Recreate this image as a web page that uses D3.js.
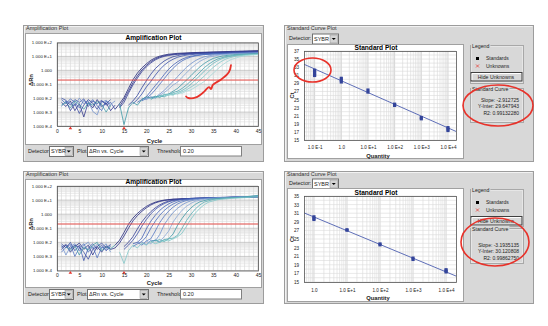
<!DOCTYPE html>
<html><head><meta charset="utf-8">
<script src="https://cdn.jsdelivr.net/npm/d3@7"></script>
<style>body{margin:0;background:#fff}svg{display:block}</style>
</head><body><svg id="c" width="548" height="326"></svg>
<script>
// ---------------- DATA ----------------
const ampXTicks = [0,5,10,15,20,25,30,35,40,45];
const ampYTicks = [1e2,1e1,1,1e-1,1e-2,1e-3,1e-4];
const ampYTickLabels = ["1.000 E+2","1.000 E+1","1.000","1.000 E-1","1.000 E-2","1.000 E-3","1.000 E-4"];
const thresholdValue = 0.20;
const baselineCycles = [3,15];
const detectorName = "SYBR";
const plotType = "\u0394Rn vs. Cycle";

// amplification curves: [cycle, log10(ΔRn)]
const topCurves = [
 [[13,-2.8],[14,-2.4],[15,-1.95],[16,-1.3],[17,-0.68],[18,-0.2],[19,0.17],[20,0.47],[21,0.72],[22,0.9],[23,1.02],[24,1.1],[25,1.16],[27,1.22],[30,1.27],[35,1.32],[40,1.37],[45,1.42]],
 [[14,-2.6],[15,-2.1],[16,-1.5],[17,-0.9],[18,-0.4],[19,0.02],[20,0.35],[21,0.62],[22,0.82],[23,0.96],[24,1.05],[25,1.11],[27,1.18],[30,1.24],[35,1.3],[40,1.34],[45,1.38]],
 [[14,-2.7],[15,-2.3],[16,-1.65],[17,-1.05],[18,-0.55],[19,-0.1],[20,0.25],[21,0.53],[22,0.75],[23,0.9],[24,1.0],[25,1.07],[27,1.15],[30,1.21],[35,1.27],[40,1.31],[45,1.35]],
 [[16,-2.5],[17,-2.2],[18,-1.8],[19,-1.25],[20,-0.75],[21,-0.28],[22,0.12],[23,0.42],[24,0.67],[25,0.85],[26,0.98],[27,1.06],[28,1.12],[30,1.18],[35,1.25],[40,1.3],[45,1.33]],
 [[17,-2.4],[18,-2.1],[19,-1.7],[20,-1.2],[21,-0.8],[22,-0.35],[23,0.05],[24,0.37],[25,0.62],[26,0.8],[27,0.94],[28,1.03],[29,1.09],[31,1.16],[35,1.22],[40,1.27],[45,1.3]],
 [[18,-2.3],[19,-2.1],[20,-1.9],[21,-1.5],[22,-1.1],[23,-0.72],[24,-0.3],[25,0.08],[26,0.38],[27,0.62],[28,0.8],[29,0.93],[30,1.02],[32,1.12],[35,1.18],[40,1.24],[45,1.28]],
 [[19,-2.2],[20,-2.0],[21,-1.75],[22,-1.4],[23,-1.0],[24,-0.6],[25,-0.2],[26,0.15],[27,0.45],[28,0.68],[29,0.84],[30,0.96],[31,1.04],[33,1.13],[36,1.19],[40,1.23],[45,1.27]],
 [[19,-2.0],[20,-2.1],[21,-1.9],[22,-1.95],[23,-1.7],[24,-1.45],[25,-1.1],[26,-0.8],[27,-0.45],[28,-0.1],[29,0.22],[30,0.48],[31,0.7],[32,0.86],[33,0.98],[35,1.1],[38,1.18],[41,1.22],[45,1.26]],
 [[20,-2.05],[21,-1.95],[22,-2.0],[23,-1.8],[24,-1.6],[25,-1.35],[26,-1.05],[27,-0.85],[28,-0.5],[29,-0.18],[30,0.15],[31,0.42],[32,0.65],[33,0.82],[34,0.95],[36,1.08],[39,1.17],[42,1.21],[45,1.24]],
 [[14,-2.4],[15,-3.9],[16,-2.7],[17,-2.3],[18,-2.5],[19,-2.1],[20,-1.9],[21,-2.0],[22,-1.85],[23,-1.95],[24,-1.75],[25,-1.7],[26,-1.5],[27,-1.3],[28,-1.0],[29,-0.7],[30,-0.38],[31,-0.05],[32,0.25],[33,0.5],[34,0.7],[35,0.86],[37,1.03],[40,1.14],[45,1.2]],
 [[21,-2.1],[22,-1.9],[23,-1.85],[24,-1.9],[25,-1.75],[26,-1.6],[27,-1.5],[28,-1.3],[29,-1.05],[30,-0.75],[31,-0.45],[32,-0.12],[33,0.2],[34,0.45],[35,0.66],[36,0.82],[38,1.0],[41,1.12],[45,1.18]],
 [[22,-2.0],[23,-1.8],[24,-1.85],[25,-1.7],[26,-1.75],[27,-1.6],[28,-1.45],[29,-1.25],[30,-1.0],[31,-0.68],[32,-0.38],[33,-0.05],[34,0.25],[35,0.5],[36,0.7],[37,0.85],[39,1.02],[42,1.12],[45,1.17]],
 [[23,-1.95],[24,-1.7],[25,-1.8],[26,-1.65],[27,-1.7],[28,-1.55],[29,-1.4],[30,-1.2],[31,-1.0],[32,-0.7],[33,-0.4],[34,-0.08],[35,0.22],[36,0.47],[37,0.68],[38,0.84],[40,1.02],[43,1.12],[45,1.15]],
 [[24,-1.9],[25,-1.75],[26,-1.8],[27,-1.6],[28,-1.65],[29,-1.5],[30,-1.4],[31,-1.2],[32,-1.0],[33,-0.8],[34,-0.5],[35,-0.2],[36,0.1],[37,0.38],[38,0.6],[39,0.78],[41,0.98],[43,1.08],[45,1.13]]
];
const topCurveColors = ["#23287a","#2a2f86","#343d96","#34459e","#3b52ab","#4260b5","#4a6cbc","#6d8fcc","#86a6d4","#3e98a6","#4aa5b0","#67b8bd","#80c6c8","#a3d8d8"];
const topNoise = [
 [[1,-2.0],[2,-2.15],[3,-2.5],[4,-2.1],[5,-2.3],[6,-2.05],[7,-2.6],[8,-2.2],[9,-2.4],[10,-2.15],[11,-2.5],[12,-2.3],[13,-2.8]],
 [[1,-2.3],[2,-2.6],[3,-2.2],[4,-2.9],[5,-2.4],[6,-3.35],[7,-2.3],[8,-2.7],[9,-2.1],[10,-2.6],[11,-2.35],[12,-2.9],[13,-2.5]],
 [[1,-2.6],[2,-2.2],[3,-2.35],[4,-2.55],[5,-2.0],[6,-2.4],[7,-2.2],[8,-2.95],[9,-3.2],[10,-2.3],[11,-2.15],[12,-2.45],[13,-2.2]],
 [[1,-2.1],[2,-2.4],[3,-2.05],[4,-2.3],[5,-2.7],[6,-2.15],[7,-2.45],[8,-2.1],[9,-2.55],[10,-2.9],[11,-2.2],[12,-2.6]],
 [[1,-2.5],[2,-2.3],[3,-2.7],[4,-2.2],[5,-2.45],[6,-2.8],[7,-2.35],[8,-2.5],[9,-2.25],[10,-2.45],[11,-3.0],[12,-2.5]],
 [[2,-2.2],[3,-2.9],[4,-2.4],[5,-3.1],[6,-2.5],[7,-2.1],[8,-2.35],[9,-2.8],[10,-2.2],[11,-2.4],[12,-2.1]]
];
const bottomCurves = [
 [[13,-2.2],[14,-1.85],[15,-1.3],[16,-0.72],[17,-0.28],[18,0.05],[19,0.32],[20,0.55],[21,0.72],[22,0.85],[23,0.94],[24,1.0],[26,1.07],[30,1.12],[35,1.16],[40,1.2],[45,1.24]],
 [[13,-2.4],[14,-2.05],[15,-1.55],[16,-1.0],[17,-0.48],[18,-0.1],[19,0.2],[20,0.45],[21,0.65],[22,0.8],[23,0.9],[24,0.97],[26,1.05],[30,1.1],[35,1.15],[40,1.19],[45,1.22]],
 [[15,-2.3],[16,-2.0],[17,-1.6],[18,-1.05],[19,-0.55],[20,-0.15],[21,0.18],[22,0.45],[23,0.66],[24,0.82],[25,0.93],[26,1.0],[28,1.08],[31,1.13],[35,1.17],[40,1.21],[45,1.25]],
 [[15,-2.5],[16,-2.2],[17,-1.85],[18,-1.4],[19,-0.85],[20,-0.38],[21,0.02],[22,0.33],[23,0.57],[24,0.75],[25,0.88],[26,0.97],[28,1.06],[31,1.12],[35,1.16],[40,1.2],[45,1.23]],
 [[17,-2.1],[18,-2.0],[19,-1.7],[20,-1.05],[21,-0.5],[22,-0.08],[23,0.27],[24,0.53],[25,0.73],[26,0.88],[27,0.98],[28,1.05],[30,1.12],[34,1.17],[40,1.22],[45,1.26]],
 [[17,-2.3],[18,-2.1],[19,-1.95],[20,-1.6],[21,-1.0],[22,-0.5],[23,-0.08],[24,0.26],[25,0.52],[26,0.72],[27,0.87],[28,0.97],[30,1.07],[33,1.13],[38,1.18],[45,1.24]],
 [[18,-2.0],[19,-2.2],[20,-1.9],[21,-1.75],[22,-1.2],[23,-0.6],[24,-0.15],[25,0.22],[26,0.5],[27,0.72],[28,0.87],[29,0.97],[31,1.08],[34,1.14],[39,1.2],[45,1.26]],
 [[19,-2.0],[20,-2.15],[21,-1.85],[22,-1.9],[23,-1.45],[24,-0.75],[25,-0.28],[26,0.12],[27,0.42],[28,0.66],[29,0.83],[30,0.95],[32,1.07],[35,1.14],[40,1.2],[45,1.28]],
 [[20,-1.9],[21,-2.1],[22,-1.8],[23,-1.95],[24,-1.6],[25,-1.2],[26,-0.55],[27,-0.1],[28,0.28],[29,0.56],[30,0.77],[31,0.92],[33,1.06],[36,1.14],[40,1.2],[45,1.3]],
 [[21,-1.95],[22,-1.85],[23,-2.0],[24,-1.8],[25,-1.75],[26,-1.4],[27,-0.78],[28,-0.3],[29,0.12],[30,0.45],[31,0.7],[32,0.88],[34,1.05],[37,1.14],[41,1.2],[45,1.32]],
 [[22,-1.9],[23,-1.8],[24,-1.95],[25,-1.75],[26,-1.7],[27,-1.5],[28,-1.0],[29,-0.45],[30,0.0],[31,0.38],[32,0.66],[33,0.86],[35,1.05],[38,1.14],[42,1.2],[45,1.3]],
 [[14,-2.7],[15,-3.5],[16,-2.6],[17,-2.2],[18,-2.4],[19,-2.05],[20,-2.2],[21,-1.95],[22,-2.1],[23,-2.0],[24,-1.85],[25,-1.9],[26,-1.75],[27,-1.6],[28,-1.35],[29,-0.85],[30,-0.35],[31,0.08],[32,0.42],[33,0.68],[34,0.86],[36,1.03],[39,1.12],[42,1.17],[45,1.22]]
];
const bottomCurveColors = ["#23287a","#2a2f86","#343d96","#3b4ea8","#4260b5","#4a6cbc","#5577c2","#6d8fcc","#8aa8d6","#3e98a6","#58aeb5","#80c6c8"];
const bottomNoise = [
 [[1,-2.1],[2,-2.4],[3,-2.0],[4,-2.6],[5,-2.2],[6,-3.3],[7,-2.4],[8,-2.1],[9,-2.5],[10,-2.2],[11,-2.6],[12,-2.3]],
 [[1,-2.5],[2,-2.2],[3,-2.7],[4,-2.3],[5,-2.05],[6,-2.5],[7,-2.2],[8,-2.9],[9,-2.3],[10,-2.7],[11,-2.25],[12,-2.5],[13,-2.4]],
 [[1,-2.2],[2,-2.9],[3,-2.3],[4,-2.1],[5,-2.6],[6,-2.2],[7,-2.0],[8,-2.45],[9,-2.15],[10,-2.4],[11,-2.1],[12,-2.7]],
 [[1,-2.7],[2,-2.35],[3,-2.15],[4,-3.0],[5,-2.4],[6,-2.1],[7,-2.7],[8,-2.3],[9,-3.1],[10,-2.35],[11,-2.5],[12,-2.2]],
 [[2,-2.3],[3,-2.55],[4,-2.25],[5,-2.9],[6,-2.35],[7,-2.55],[8,-2.2],[9,-2.0],[10,-2.6],[11,-2.3],[12,-2.45],[13,-2.2]],
 [[1,-2.35],[2,-2.15],[3,-2.45],[4,-2.2],[5,-2.35],[6,-2.7],[7,-3.2],[8,-2.5],[9,-2.3],[10,-2.05],[11,-2.4],[12,-2.15]]
];
const noiseColors = ["#3b52ab","#2a2f86","#6d8fcc","#4a6cbc","#3e98a6","#34459e"];
// hand-drawn red brace on top plot, [cycle, log10(ΔRn)]
const braceTop = [[28.9,-1.88],[29.3,-1.98],[31.1,-1.95],[32.9,-1.55],[34.0,-1.2],[34.5,-1.34],[34.9,-1.05],[36.9,-0.62],[38.5,-0.12],[38.95,0.38]];

// standard curves
const stdQtyTop = [0.1,1,10,100,1000,10000];
const stdCtTop = [[32.3,31.8,31.3,30.9],[30.3,29.8,29.3],[27.4,26.8],[23.9,23.5],[20.6,20.2],[18.1,17.7,17.3]];
const stdFitTop = {slope:-2.912725, intercept:29.647943, r2:"0.99132280"};
const stdXTickLabelsTop = ["1.0 E-1","1.0","1.0 E+1","1.0 E+2","1.0 E+3","1.0 E+4"];
const stdYTicksTop = [15,17,19,21,23,25,27,29,31,33,35,37];

const stdQtyBottom = [1,10,100,1000,10000];
const stdCtBottom = [[30.2,29.8,29.5],[27.2,27.0],[23.9,23.6],[20.6,20.2],[17.9,17.6,17.3]];
const stdFitBottom = {slope:-3.1935135, intercept:30.120808, r2:"0.99862750"};
const stdXTickLabelsBottom = ["1.0","1.0 E+1","1.0 E+2","1.0 E+3","1.0 E+4"];
const stdYTicksBottom = [15,17,19,21,23,25,27,29,31,33,35];

// ---------------- DRAWING ----------------
const svg = d3.select("#c");
const FONT = '"Liberation Sans", Arial, Helvetica, sans-serif';
const TXT = "#222";
function txt(x,y,s,size,opt={}){
  return svg.append("text").attr("x",x).attr("y",y).attr("dy","0.35em")
    .attr("font-family",FONT).attr("font-size",size).attr("fill",opt.fill||TXT)
    .attr("font-weight",opt.bold?"bold":"normal").attr("text-anchor",opt.anchor||"start").text(s);
}
function panel(x,y,w,h){
  svg.append("rect").attr("x",x+.5).attr("y",y+.5).attr("width",w).attr("height",h).attr("fill","#d8d8d8").attr("stroke","#9c9c9c");
  svg.append("path").attr("d",`M${x+1.5},${y+h-.5}V${y+1.5}H${x+w-.5}`).attr("fill","none").attr("stroke","#f2f2f2");
}
function whiteBox(x,y,w,h){
  svg.append("rect").attr("x",x+.5).attr("y",y+.5).attr("width",w).attr("height",h).attr("fill","#fff").attr("stroke","#a0a0a0");
}
function selectBox(x,y,w,h,label){
  svg.append("rect").attr("x",x+.5).attr("y",y+.5).attr("width",w).attr("height",h).attr("fill","#fff").attr("stroke","#707070");
  svg.append("rect").attr("x",x+w-h+2).attr("y",y+1.5).attr("width",h-2.5).attr("height",h-2).attr("fill","#d4d4d4").attr("stroke","#8a8a8a").attr("stroke-width",.5);
  const ax=x+w-h+2+(h-2.5)/2, ay=y+h/2+.5;
  svg.append("path").attr("d",`M${ax-2},${ay-1}h4l-2,2z`).attr("fill","#000");
  txt(x+2,y+h/2+.5,label,5.5);
}
function groupBox(x,y,w,h,label){
  svg.append("rect").attr("x",x+.5).attr("y",y+.5).attr("width",w).attr("height",h).attr("fill","none").attr("stroke","#a8a8a8");
  svg.append("rect").attr("x",x+1.5).attr("y",y+1.5).attr("width",w-2).attr("height",h-2).attr("fill","none").attr("stroke","#f0f0f0").attr("stroke-width",.6);
  const t=txt(x+2,y+1,label,5.2);
  const bb=t.node().getBBox();
  svg.insert("rect",()=>t.node()).attr("x",bb.x-1).attr("y",bb.y).attr("width",bb.width+2).attr("height",bb.height).attr("fill","#d8d8d8");
}
function button(x,y,w,h,label){
  svg.append("rect").attr("x",x+.5).attr("y",y+.5).attr("width",w).attr("height",h).attr("fill","#d8d8d8").attr("stroke","#404040");
  svg.append("path").attr("d",`M${x+1.5},${y+h-.5}V${y+1.5}H${x+w-.5}`).attr("fill","none").attr("stroke","#fff");
  txt(x+w/2,y+h/2+.5,label,5.2,{anchor:"middle"});
}

let clipId=0;
function drawAmp(L, curves, colors, noise, brace){
  panel(L.px,L.py,L.pw,L.ph);
  txt(L.px+3,L.py+3.5,"Amplification Plot",5.5,{fill:"#333"});
  whiteBox(L.wx,L.wy,L.ww,L.wh);
  const x=d3.scaleLinear().domain([0,45]).range([L.fx,L.fx+L.fw]);
  const y=d3.scaleLog().domain([1e-4,1e2]).range([L.fy+L.fh,L.fy]);
  const g=svg.append("g");
  g.selectAll(".vg").data(d3.range(0,46)).join("line")
    .attr("x1",d=>x(d)).attr("x2",d=>x(d)).attr("y1",L.fy).attr("y2",L.fy+L.fh)
    .attr("stroke",d=>d%5===0?"#b8b8b8":"#d4d4d4").attr("stroke-width",.6);
  const minor=[];
  for(let e=-4;e<2;e++) for(let k=2;k<10;k++) minor.push(k*Math.pow(10,e));
  g.selectAll(".hg").data(minor).join("line")
    .attr("x1",L.fx).attr("x2",L.fx+L.fw).attr("y1",d=>y(d)).attr("y2",d=>y(d))
    .attr("stroke","#dcdcdc").attr("stroke-width",.6);
  g.selectAll(".hm").data(ampYTicks).join("line")
    .attr("x1",L.fx).attr("x2",L.fx+L.fw).attr("y1",d=>y(d)).attr("y2",d=>y(d))
    .attr("stroke","#b0b0b0").attr("stroke-width",.6);
  const cid="clip"+(clipId++);
  svg.append("clipPath").attr("id",cid).append("rect").attr("x",L.fx).attr("y",L.fy).attr("width",L.fw).attr("height",L.fh);
  const cg=svg.append("g").attr("clip-path",`url(#${cid})`);
  const line=d3.line().x(d=>x(d[0])).y(d=>y(Math.pow(10,d[1])));
  cg.selectAll(".nz").data(noise).join("path").attr("d",line).attr("fill","none")
    .attr("stroke",(d,i)=>noiseColors[i%noiseColors.length]).attr("stroke-width",.75);
  cg.selectAll(".cv").data(curves).join("path").attr("d",line).attr("fill","none")
    .attr("stroke",(d,i)=>colors[i]).attr("stroke-width",.8);
  cg.append("line").attr("x1",L.fx).attr("x2",L.fx+L.fw).attr("y1",y(thresholdValue)).attr("y2",y(thresholdValue))
    .attr("stroke","#e8403a").attr("stroke-width",.9);
  if(brace){
    svg.append("path").attr("d",d3.line().x(d=>x(d[0])).y(d=>y(Math.pow(10,d[1]))).curve(d3.curveCatmullRom)(brace))
      .attr("fill","none").attr("stroke","#e8322a").attr("stroke-width",1.8).attr("stroke-linecap","round");
  }
  svg.append("rect").attr("x",L.fx+.5).attr("y",L.fy+.5).attr("width",L.fw).attr("height",L.fh).attr("fill","none").attr("stroke","#555").attr("stroke-width",.8);
  svg.selectAll(null).data(baselineCycles).join("path")
    .attr("d",d=>`M${x(d)-1.8},${L.fy+L.fh+3.2}l1.8,-2.6l1.8,2.6z`).attr("fill","#e8322a");
  const ay=svg.append("g").attr("transform",`translate(${L.fx},0)`)
    .call(d3.axisLeft(y).tickValues(ampYTicks).tickFormat((d,i)=>ampYTickLabels[i]).tickSize(0).tickPadding(5));
  ay.select(".domain").remove();
  ay.selectAll("text").attr("font-family",FONT).attr("font-size",4.4).attr("fill",TXT);
  const ax=svg.append("g").attr("transform",`translate(0,${L.tickY-2.5})`)
    .call(d3.axisBottom(x).tickValues(ampXTicks).tickSize(0).tickPadding(0));
  ax.select(".domain").remove();
  ax.selectAll("text").attr("font-family",FONT).attr("font-size",5).attr("fill",TXT);
  txt(L.fx+L.fw/2-4,L.fy-4.5,"Amplification Plot",6.6,{bold:true,anchor:"middle",fill:"#000000"});
  txt(L.fx+L.fw/2-3,L.cycleY,"Cycle",5.8,{bold:true,anchor:"middle"});
  svg.append("text").attr("transform",`translate(${L.wx+6},${L.fy+L.fh*0.45}) rotate(-90)`).attr("dy","0.35em")
    .attr("text-anchor","middle").attr("font-family",FONT).attr("font-size",5.8).attr("font-weight","bold").attr("fill",TXT).text("\u0394Rn");
  txt(L.px+5,L.barY,"Detector",5.5);
  selectBox(L.px+26,L.barY-5,24,10,detectorName);
  txt(L.px+54,L.barY,"Plot",5.5);
  selectBox(L.px+64,L.barY-5,61,10,plotType);
  txt(L.px+134,L.barY,"Threshold",5.5);
  svg.append("rect").attr("x",L.px+157.5).attr("y",L.barY-4.5).attr("width",61).attr("height",9.5).attr("fill","#fff").attr("stroke","#808080");
  txt(L.px+160,L.barY+.5,d3.format(".2f")(thresholdValue),5.5);
}

function drawStd(L, qty, cts, fit, xDomain, xLabels, yDomain, yTicks){
  panel(L.px,L.py,L.pw,L.ph);
  txt(L.px+3,L.py+3.5,"Standard Curve Plot",5.5,{fill:"#333"});
  txt(L.px+5,L.detY,"Detector:",5.5);
  selectBox(L.px+28,L.detY-5,26,10,detectorName);
  whiteBox(L.wx,L.wy,L.ww,L.wh);
  const x=d3.scaleLog().domain(xDomain).range([L.fx,L.fx+L.fw]);
  const y=d3.scaleLinear().domain(yDomain).range([L.fy+L.fh,L.fy]);
  const g=svg.append("g");
  const minor=[];
  for(let e=-2;e<5;e++) for(let k=1;k<10;k++){const v=k*Math.pow(10,e); if(v>xDomain[0]&&v<xDomain[1]) minor.push(v);}
  g.selectAll(".vg").data(minor).join("line").attr("x1",d=>x(d)).attr("x2",d=>x(d)).attr("y1",L.fy).attr("y2",L.fy+L.fh)
    .attr("stroke",d=>Math.abs(Math.log10(d)-Math.round(Math.log10(d)))<1e-9?"#b8b8b8":"#d6d6d6").attr("stroke-width",.6);
  g.selectAll(".hg").data(d3.range(yDomain[0],yDomain[1]+1)).join("line").attr("x1",L.fx).attr("x2",L.fx+L.fw)
    .attr("y1",d=>y(d)).attr("y2",d=>y(d)).attr("stroke","#dadada").attr("stroke-width",.6);
  svg.append("line").attr("x1",x(xDomain[0])).attr("y1",y(fit.intercept+fit.slope*Math.log10(xDomain[0])))
    .attr("x2",x(xDomain[1])).attr("y2",y(fit.intercept+fit.slope*Math.log10(xDomain[1])))
    .attr("stroke","#4d5fb0").attr("stroke-width",.9);
  const pts=[]; qty.forEach((q,i)=>cts[i].forEach(c=>pts.push([q,c])));
  svg.selectAll(null).data(pts).join("rect").attr("x",d=>x(d[0])-1.6).attr("y",d=>y(d[1])-1.4)
    .attr("width",3.2).attr("height",2.8).attr("fill","#33449a");
  svg.append("rect").attr("x",L.fx+.5).attr("y",L.fy+.5).attr("width",L.fw).attr("height",L.fh).attr("fill","none").attr("stroke","#555").attr("stroke-width",.8);
  const ay=svg.append("g").attr("transform",`translate(${L.fx},0)`)
    .call(d3.axisLeft(y).tickValues(yTicks).tickSize(0).tickPadding(5));
  ay.select(".domain").remove();
  ay.selectAll("text").attr("font-family",FONT).attr("font-size",4.6).attr("fill",TXT);
  const ax=svg.append("g").attr("transform",`translate(0,${L.tickY-2.5})`)
    .call(d3.axisBottom(x).tickValues(qty).tickFormat((d,i)=>xLabels[i]).tickSize(0).tickPadding(0));
  ax.select(".domain").remove();
  ax.selectAll("text").attr("font-family",FONT).attr("font-size",4.6).attr("fill",TXT);
  txt(L.fx+L.fw/2-4,L.titleY,"Standard Plot",6.6,{bold:true,anchor:"middle",fill:"#000000"});
  txt(L.fx+L.fw/2-2,L.qtyY,"Quantity",5.8,{bold:true,anchor:"middle"});
  svg.append("text").attr("transform",`translate(${L.wx+5},${L.fy+L.fh*0.5}) rotate(-90)`).attr("dy","0.35em")
    .attr("text-anchor","middle").attr("font-family",FONT).attr("font-size",5.8).attr("font-weight","bold").attr("fill",TXT).text("Ct");
  groupBox(L.lx,L.ly,53,L.lh,"Legend");
  svg.append("rect").attr("x",L.lx+6).attr("y",L.ly+12).attr("width",3).attr("height",3).attr("fill","#000");
  txt(L.lx+16,L.ly+13.5,"Standards",5);
  svg.append("path").attr("d",`M${L.lx+6},${L.ly+19.5}l3,3M${L.lx+9},${L.ly+19.5}l-3,3`).attr("stroke","#e8322a").attr("stroke-width",.7);
  txt(L.lx+16,L.ly+21,"Unknowns",5);
  button(L.lx+0.5,L.ly+27,51,8.5,"Hide Unknowns");
  groupBox(L.lx,L.sy,53,L.sh,"Standard Curve");
  txt(L.lx+49,L.sy+L.s1,"Slope: "+fit.slope,5,{anchor:"end"});
  txt(L.lx+49,L.sy+L.s1+6.5,"Y-Inter: "+fit.intercept.toFixed(6),5,{anchor:"end"});
  txt(L.lx+49,L.sy+L.s1+13,"R2: "+fit.r2,5,{anchor:"end"});
}

const LTL={px:23,py:25,pw:240,ph:136,wx:25,wy:33,ww:236,wh:111,fx:57,fy:42.5,fw:201,fh:83.5,tickY:132,cycleY:141,barY:151};
const LBL={px:23,py:171,pw:240,ph:132,wx:25,wy:179,ww:236,wh:108,fx:57,fy:186,fw:201,fh:84.5,tickY:276,cycleY:283,barY:294};
drawAmp(LTL,topCurves,topCurveColors,topNoise,braceTop);
drawAmp(LBL,bottomCurves,bottomCurveColors,bottomNoise,null);

const LTR={px:284,py:25,pw:249,ph:136,detY:38.5,wx:287,wy:44,ww:176,wh:114,fx:304,fy:51,fw:152,fh:89,titleY:47.5,tickY:148,qtyY:155.5,lx:470,ly:45,lh:38,sy:88,sh:34,s1:12};
const LBR={px:284,py:171,pw:249,ph:132,detY:183.5,wx:287,wy:188,ww:176,wh:113,fx:304,fy:196,fw:152,fh:86,titleY:192.5,tickY:291.3,qtyY:298,lx:470,ly:189,lh:37,sy:228,sh:35,s1:17};
drawStd(LTR,stdQtyTop,stdCtTop,stdFitTop,[0.04,2e4],stdXTickLabelsTop,[15,37],stdYTicksTop);
drawStd(LBR,stdQtyBottom,stdCtBottom,stdFitBottom,[0.5,2e4],stdXTickLabelsBottom,[15,35],stdYTicksBottom);

function ellipse(cx,cy,rx,ry){svg.append("ellipse").attr("cx",cx).attr("cy",cy).attr("rx",rx).attr("ry",ry).attr("fill","none").attr("stroke","#e8322a").attr("stroke-width",1.6);}
ellipse(312.5,70,18.5,12);
ellipse(498,105.5,35,20.5);
ellipse(495,242,34,24);
</script></body></html>
